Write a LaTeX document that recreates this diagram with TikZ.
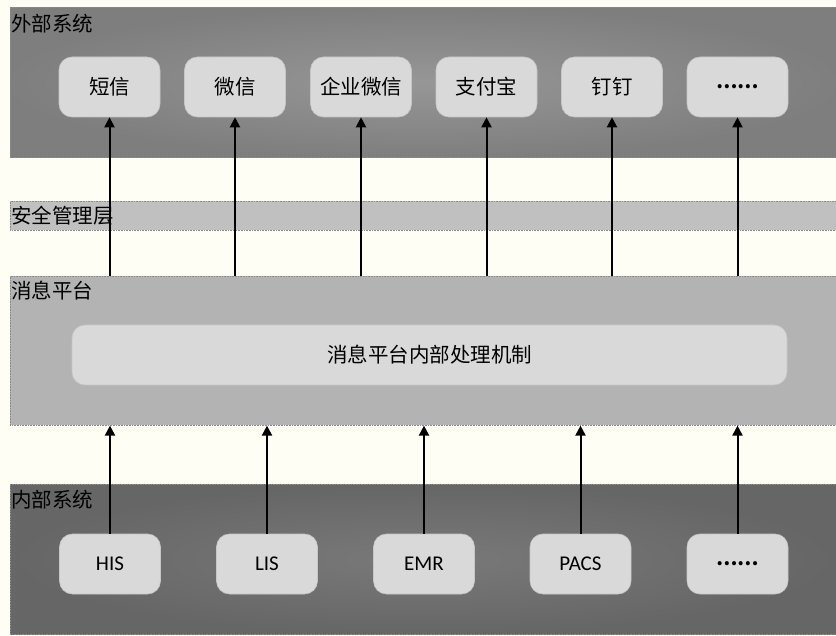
\documentclass[tikz,border=0pt]{standalone}
\usepackage{fontspec}
\setmainfont{Carlito}
\newfontfamily\cjk{Noto Sans CJK SC}
\usetikzlibrary{arrows.meta}
\definecolor{bgc}{HTML}{FFFEF5}
\definecolor{boxc}{HTML}{D9D9D9}
\definecolor{boxline}{HTML}{C6C6C6}
\definecolor{safec}{HTML}{C0C0C0}
\definecolor{msgc}{HTML}{B3B3B3}
\definecolor{bandline}{HTML}{8C8C8C}
\tikzset{
  band/.style={draw=bandline, densely dotted, line width=0.6pt, inner sep=0pt, anchor=north west, minimum width=826pt},
  sbox/.style={draw=boxline, fill=boxc, rounded corners=13pt, line width=0.6pt, minimum width=101pt, minimum height=60pt, inner sep=0pt, text=black, font=\fontsize{21}{24}\selectfont},
  cjkbox/.style={sbox, font=\fontsize{20.5}{24}\selectfont\cjk},
  dotbox/.style={sbox, font=\fontsize{19}{24}\selectfont\cjk\bfseries},
  layerlbl/.style={anchor=west, inner sep=0pt, text=black, font=\fontsize{20.5}{24}\selectfont\cjk},
  arr/.style={line width=2pt, -{Triangle[width=10pt,length=10pt]}, black}
}
\begin{document}
\begin{tikzpicture}[x=1pt,y=-1pt]
\useasboundingbox (0,0) rectangle (836,636);
\fill[bgc] (0,0) rectangle (836,636);
% bands
\node[band, minimum height=150pt, inner color=gray!82!white, outer color=gray!88!black!90, shading=radial] (ext) at (10,7) {};
\node[band, minimum height=29pt, fill=safec] (safe) at (10,201) {};
\node[band, minimum height=149pt, fill=msgc] (msg) at (10,276) {};
\node[band, minimum height=150pt, inner color=gray!105, outer color=black!60, shading=radial] (int) at (10,484) {};
% layer labels
\node[layerlbl] (lext) at (11,24) {外部系统};
\node[layerlbl] (lsafe) at (11,216) {安全管理层};
\node[layerlbl] (lmsg) at (11,291) {消息平台};
\node[layerlbl] (lint) at (11,500) {内部系统};
% top boxes
\node[cjkbox] (t1) at (109.5,87) {短信};
\node[cjkbox] (t2) at (235,87) {微信};
\node[cjkbox] (t3) at (361,87) {企业微信};
\node[cjkbox] (t4) at (486.5,87) {支付宝};
\node[cjkbox] (t5) at (612,87) {钉钉};
\node[dotbox] (t6) at (737.5,87) {……};
% inner box
\node[cjkbox, minimum width=715pt] (core) at (429.5,355) {消息平台内部处理机制};
% bottom boxes
\node[sbox] (b1) at (110,564) {HIS};
\node[sbox] (b2) at (267,564) {LIS};
\node[sbox] (b3) at (424,564) {EMR};
\node[sbox] (b4) at (580.5,564) {PACS};
\node[dotbox] (b5) at (737.5,564) {……};
% arrows up to external systems
\foreach \n in {t1,t2,t3,t4,t5,t6}
  \draw[arr] (\n.south |- msg.north) -- (\n.south);
% arrows up from internal systems
\foreach \n in {b1,b2,b3,b4,b5}
  \draw[arr] (\n.north) -- (\n.north |- msg.south);
\end{tikzpicture}
\end{document}
